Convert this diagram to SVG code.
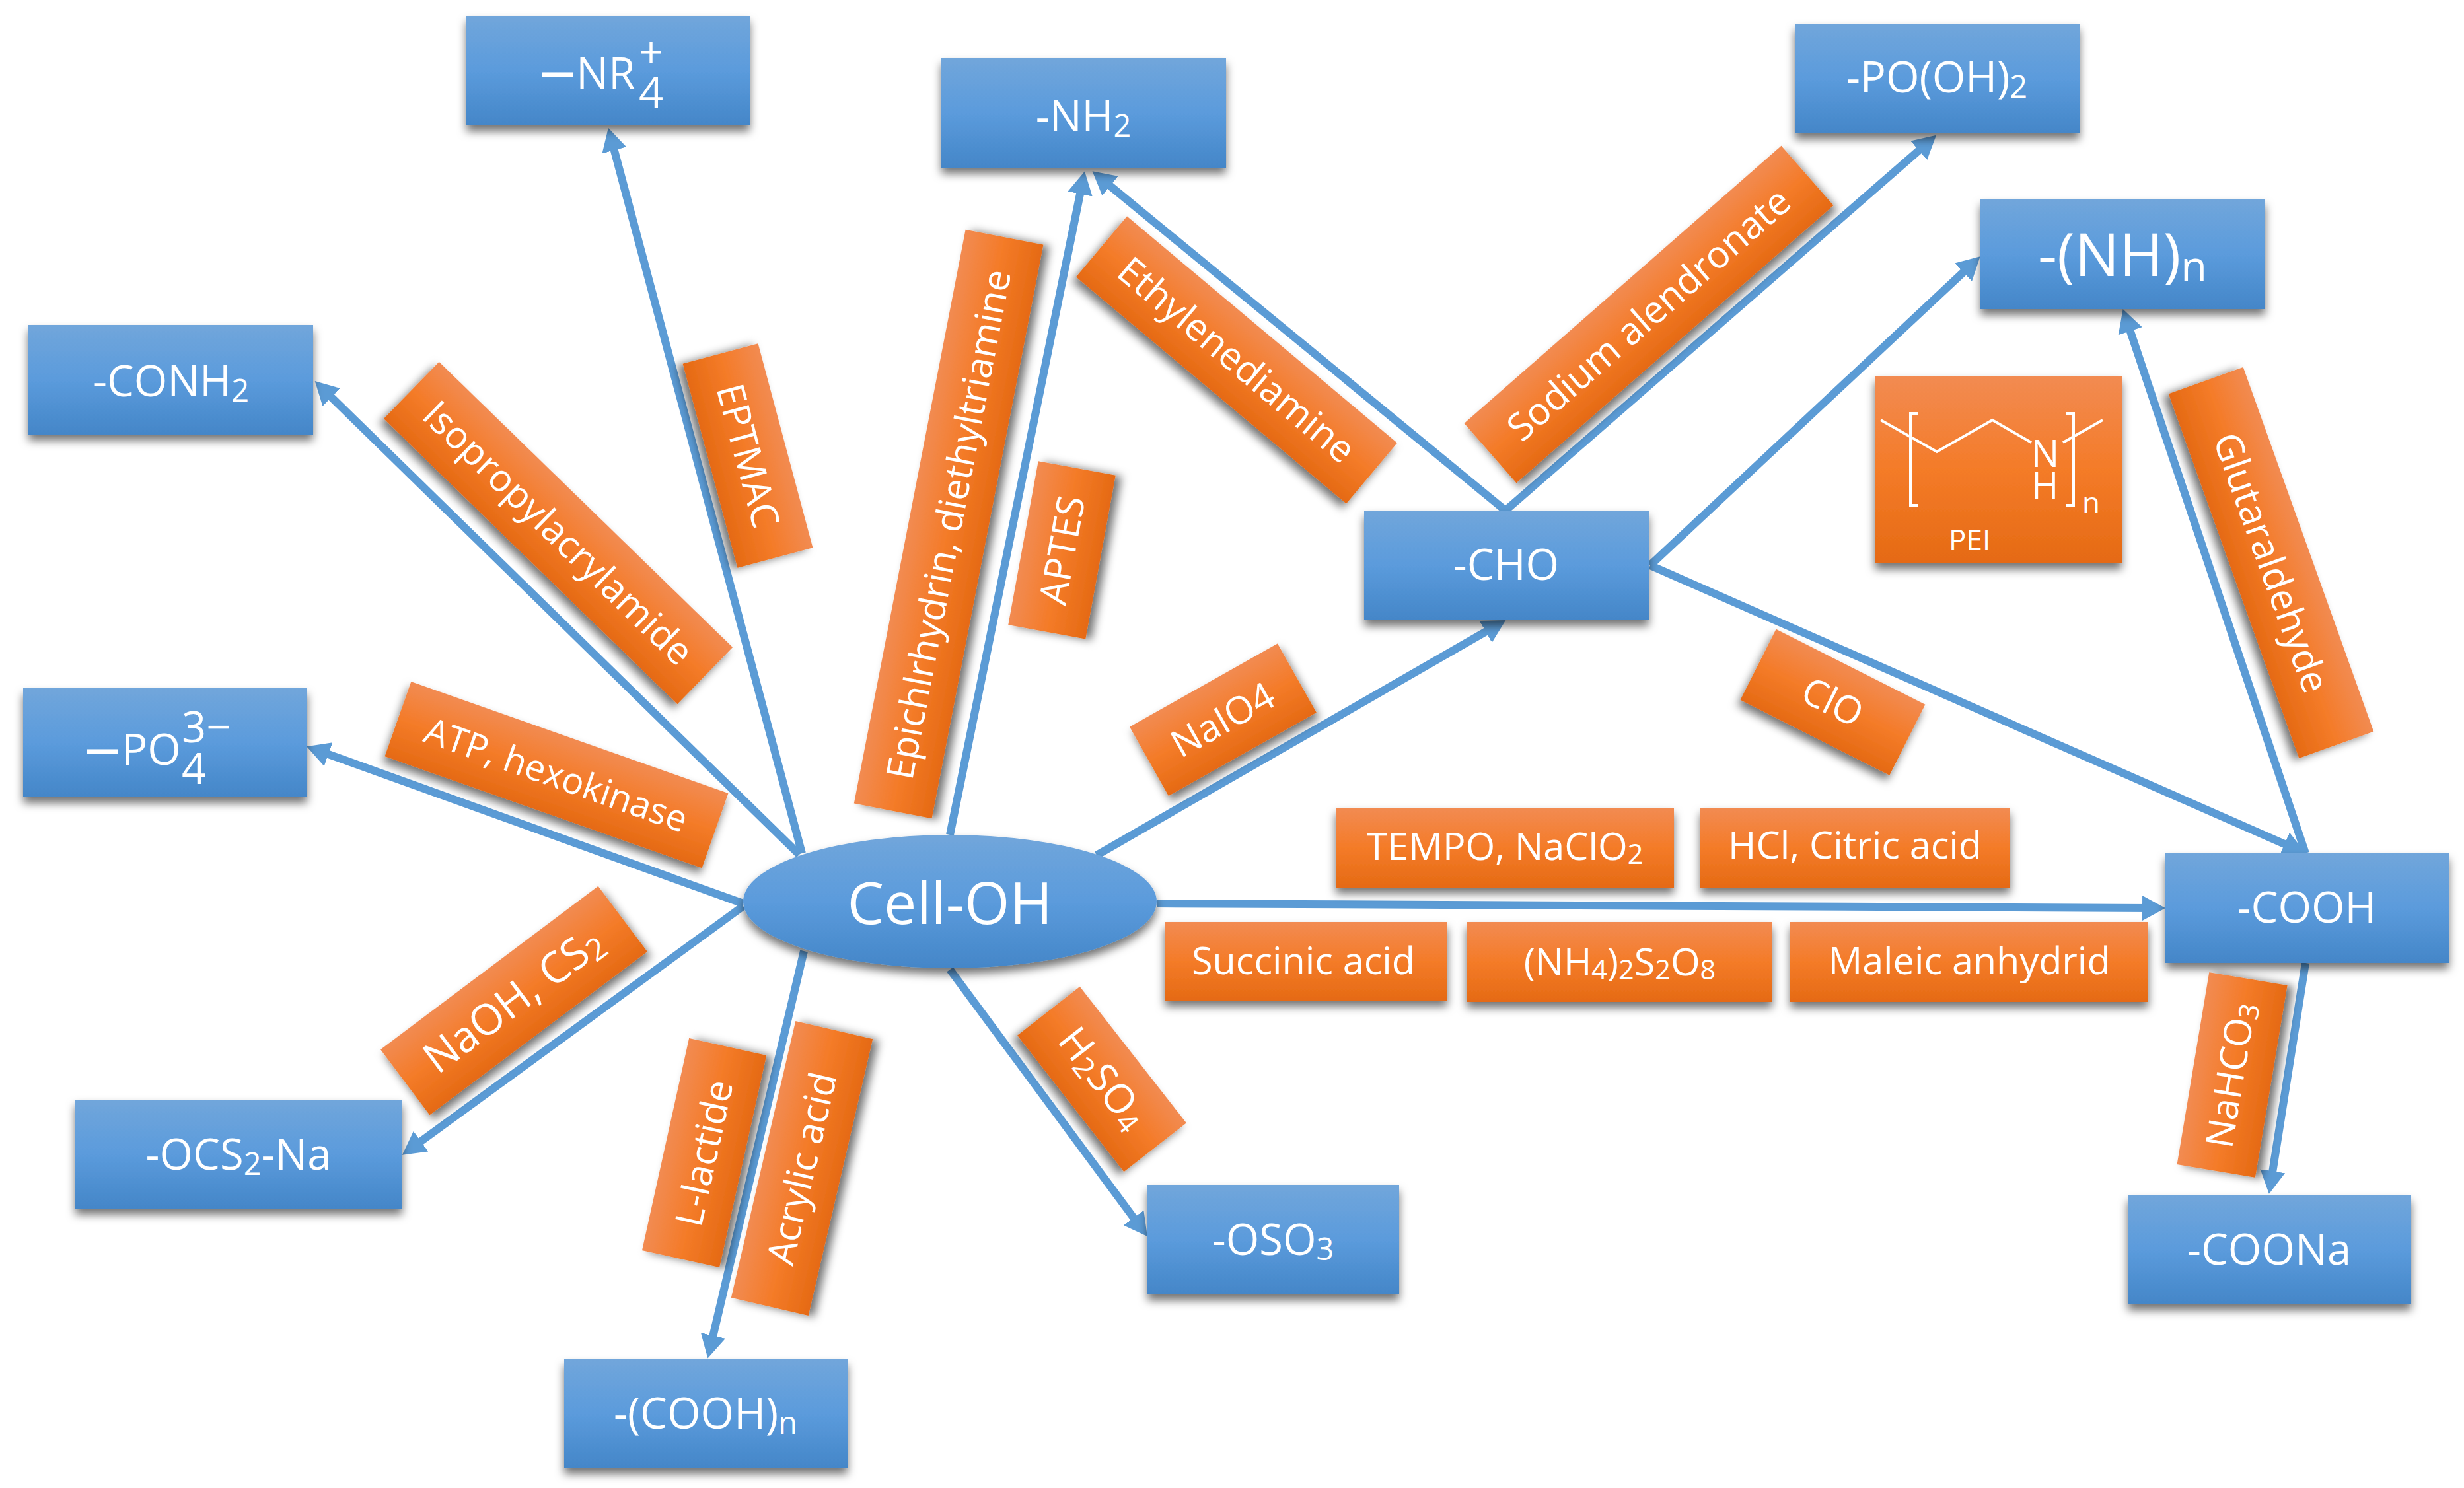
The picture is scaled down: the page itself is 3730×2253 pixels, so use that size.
<svg xmlns="http://www.w3.org/2000/svg" width="3730" height="2253" viewBox="0 0 3730 2253">
<defs>
<linearGradient id="gb" x1="0" y1="0" x2="0" y2="1"><stop offset="0" stop-color="#71A6DB"/><stop offset=".5" stop-color="#5B9BDC"/><stop offset="1" stop-color="#4486C8"/></linearGradient>
<linearGradient id="go" x1="0" y1="0" x2="0" y2="1"><stop offset="0" stop-color="#F28B52"/><stop offset=".5" stop-color="#F47B28"/><stop offset="1" stop-color="#E56A14"/></linearGradient>
<filter id="sh" x="-20%" y="-30%" width="140%" height="170%"><feDropShadow dx="0" dy="9" stdDeviation="7" flood-color="#000" flood-opacity=".55"/></filter>
<marker id="ah" markerUnits="userSpaceOnUse" markerWidth="36" markerHeight="40" refX="15" refY="20" orient="auto"><path d="M0 1L35 20L0 39z" fill="#5B9BD5"/></marker>
</defs>
<style>
text{font-family:"Open Sans","Liberation Sans",sans-serif;fill:#fff}
.m{text-anchor:middle;dominant-baseline:central}
.b{fill:url(#gb);filter:url(#sh)}
.o{fill:url(#go);filter:url(#sh)}
.n{font-size:65px}
.l{font-size:57.5px}
.c line{stroke:#5B9BD5;stroke-width:12;marker-end:url(#ah)}
.s{font-size:.72em}
.w{fill:none;stroke:#fff;stroke-width:4}
</style>
<rect width="3730" height="2253" fill="#fff"/>
<g id="connectors" class="c">
<line x1="1214" y1="1292" x2="926" y2="213"/>
<line x1="1210" y1="1294" x2="491" y2="591"/>
<line x1="1125" y1="1368" x2="483" y2="1137"/>
<line x1="1125" y1="1372" x2="625" y2="1737"/>
<line x1="1217" y1="1440" x2="1076" y2="2037"/>
<line x1="1438" y1="1468" x2="1725" y2="1856"/>
<line x1="1438" y1="1264" x2="1638" y2="279"/>
<line x1="1660" y1="1295" x2="2262" y2="949"/>
<line x1="1751" y1="1368" x2="3258" y2="1375"/>
<line x1="2279" y1="773" x2="1669" y2="272"/>
<line x1="2279" y1="773" x2="2916" y2="218"/>
<line x1="2498" y1="856" x2="2983" y2="402"/>
<line x1="2498" y1="856" x2="3472" y2="1284"/>
<line x1="3490" y1="1292" x2="3220" y2="487"/>
<line x1="3490" y1="1458" x2="3438" y2="1788"/>
</g>
<g id="cell-oh"><ellipse class="b" cx="1438" cy="1365" rx="313" ry="101"/><text class="m" x="1438" y="1365" font-size="88">Cell-OH</text></g>
<g id="nr4"><rect class="b" x="706" y="24" width="429" height="166"/><text class="n" x="815" y="148"><tspan font-size="100">−</tspan><tspan dy="-14">NR</tspan><tspan x="967" y="102">+</tspan><tspan x="967" y="163">4</tspan></text></g>
<g id="nh2"><rect class="b" x="1425" y="88" width="431" height="166"/><text class="m n" x="1640" y="174">-NH<tspan class="s" dy="15">2</tspan></text></g>
<g id="pooh2"><rect class="b" x="2717" y="36" width="431" height="166"/><text class="m n" x="2932" y="115">-PO(OH)<tspan class="s" dy="15">2</tspan></text></g>
<g id="nhn"><rect class="b" x="2998" y="302" width="431" height="166"/><text class="m" x="3213" y="383" font-size="90">-(NH)<tspan class="s" dy="18">n</tspan></text></g>
<g id="conh2"><rect class="b" x="43" y="492" width="431" height="166"/><text class="m n" x="259" y="575">-CONH<tspan class="s" dy="15">2</tspan></text></g>
<g id="cho"><rect class="b" x="2065" y="773" width="431" height="166"/><text class="m n" x="2280" y="853">-CHO</text></g>
<g id="po4"><rect class="b" x="35" y="1042" width="430" height="165"/><text class="n" x="126" y="1173"><tspan font-size="100">−</tspan><tspan dx="1" dy="-15">PO</tspan><tspan x="275" y="1124">3−</tspan><tspan x="275" y="1187">4</tspan></text></g>
<g id="ocs2na"><rect class="b" x="114" y="1665" width="495" height="165"/><text class="m n" x="361" y="1746">-OCS<tspan class="s" dy="15">2</tspan><tspan dy="-15">-Na</tspan></text></g>
<g id="coohn"><rect class="b" x="854" y="2058" width="429" height="165"/><text class="m n" x="1068" y="2138">-(COOH)<tspan class="s" dy="15">n</tspan></text></g>
<g id="oso3"><rect class="b" x="1737" y="1794" width="381" height="166"/><text class="m n" x="1927" y="1875">-OSO<tspan class="s" dy="15">3</tspan></text></g>
<g id="cooh"><rect class="b" x="3278" y="1292" width="429" height="166"/><text class="m n" x="3492" y="1372">-COOH</text></g>
<g id="coona"><rect class="b" x="3221" y="1810" width="429" height="165"/><text class="m n" x="3435" y="1890">-COONa</text></g>
<g id="eptmac" transform="translate(1132 690) rotate(75)"><rect class="o" x="-160" y="-59" width="320" height="118"/><text class="m l" x="0" y="-2">EPTMAC</text></g>
<g id="isopropylacrylamide" transform="translate(845 807) rotate(44.2)"><rect class="o" x="-310" y="-60" width="620" height="120"/><text class="m l" x="0" y="-2">Isopropylacrylamide</text></g>
<g id="epichlrhydrin" transform="translate(1436 794) rotate(-79)"><rect class="o" x="-442" y="-60" width="885" height="120"/><text class="m" font-size="57" x="0" y="-2">Epichlrhydrin, diethyltriamine</text></g>
<g id="aptes" transform="translate(1608 833) rotate(-79.6)"><rect class="o" x="-126" y="-60" width="252" height="119"/><text class="m l" x="0" y="-2">APTES</text></g>
<g id="ethylenediamine" transform="translate(1872 545) rotate(40)"><rect class="o" x="-267" y="-60" width="534" height="120"/><text class="m l" x="0" y="-2">Ethylenediamine</text></g>
<g id="sodium-alendronate" transform="translate(2496 476) rotate(-41.2)"><rect class="o" x="-319" y="-60" width="638" height="120"/><text class="m l" x="0" y="-2">Sodium alendronate</text></g>
<g id="glutaraldehyde" transform="translate(3438 852) rotate(70.3)"><rect class="o" x="-293" y="-60" width="586" height="120"/><text class="m l" x="0" y="-2">Glutaraldehyde</text></g>
<g id="clo" transform="translate(2774 1063) rotate(26.8)"><rect class="o" x="-126" y="-60" width="253" height="120"/><text class="m l" x="0" y="-2">ClO</text></g>
<g id="naio4" transform="translate(1851 1090) rotate(-29.4)"><rect class="o" x="-128" y="-60" width="257" height="120"/><text class="m l" x="0" y="-2">NaIO4</text></g>
<g id="atp" transform="translate(842 1173) rotate(19.4)"><rect class="o" x="-254" y="-60" width="509" height="120"/><text class="m" font-size="55" x="0" y="-2">ATP, hexokinase</text></g>
<g id="naoh" transform="translate(778 1515) rotate(-36.9)"><rect class="o" x="-206" y="-62" width="412" height="124"/><text class="m" x="0" y="-4" font-size="65">NaOH, CS<tspan class="s" dy="15">2</tspan></text></g>
<g id="l-lactide" transform="translate(1066 1746) rotate(-77.5)"><rect class="o" x="-164" y="-60" width="329" height="120"/><text class="m l" x="0" y="-2">L-lactide</text></g>
<g id="acrylic-acid" transform="translate(1214 1769) rotate(-76.9)"><rect class="o" x="-215" y="-60" width="430" height="120"/><text class="m l" x="0" y="-2">Acrylic acid</text></g>
<g id="h2so4" transform="translate(1668 1634) rotate(52)"><rect class="o" x="-131" y="-60" width="262" height="120"/><text class="m" font-size="61" x="0" y="-5">H<tspan class="s" dy="14">2</tspan><tspan dy="-14">SO</tspan><tspan class="s" dy="14">4</tspan></text></g>
<g id="nahco3" transform="translate(3379 1628) rotate(-80.5)"><rect class="o" x="-147" y="-60" width="295" height="120"/><text class="m l" x="0" y="-4">NaHCO<tspan class="s" dy="12">3</tspan></text></g>
<g id="tempo"><rect class="o" x="2022" y="1223" width="512" height="121"/><text class="m l" x="2278" y="1280">TEMPO, NaClO<tspan class="s" dy="12">2</tspan></text></g>
<g id="hcl"><rect class="o" x="2574" y="1223" width="469" height="121"/><text class="m l" x="2808" y="1278">HCl, Citric acid</text></g>
<g id="succinic"><rect class="o" x="1763" y="1396" width="428" height="119"/><text class="m l" x="1973" y="1453">Succinic acid</text></g>
<g id="nh4s2o8"><rect class="o" x="2220" y="1396" width="463" height="121"/><text class="m l" x="2452" y="1455">(NH<tspan class="s" dy="12">4</tspan><tspan dy="-12">)</tspan><tspan class="s" dy="12">2</tspan><tspan dy="-12">S</tspan><tspan class="s" dy="12">2</tspan><tspan dy="-12">O</tspan><tspan class="s" dy="12">8</tspan></text></g>
<g id="maleic"><rect class="o" x="2710" y="1396" width="542" height="121"/><text class="m l" x="2981" y="1453">Maleic anhydrid</text></g>
<g id="pei"><rect class="o" x="2838" y="569" width="374" height="284"/>
<path class="w" d="M2847 636L2932 684L3016 636L3075 670M3123 670L3183 636M2903 626H2892V765H2903M3128 626H3139V765H3128"/>
<text font-size="56"><tspan x="3075" y="707">N</tspan><tspan x="3075" y="755">H</tspan></text><text font-size="44" x="3152" y="777">n</text><text font-size="44" x="2950" y="833">PEI</text></g>
</svg>
